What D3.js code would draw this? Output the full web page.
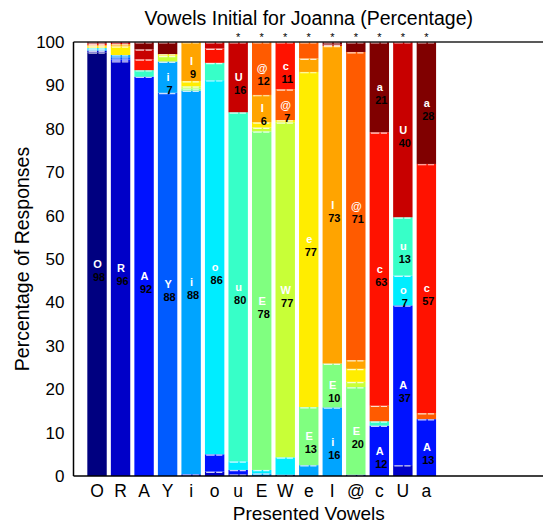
<!DOCTYPE html>
<html><head><meta charset="utf-8">
<script src="https://cdn.jsdelivr.net/npm/d3@7"></script>
<style>body{margin:0;background:#fff}svg{display:block}text{font-family:"Liberation Sans",Arial,Helvetica,sans-serif}</style>
</head><body><svg id="c" width="543" height="527"></svg>
<script>
// Presented vowels (bars) and response categories (stack segments), same order
const categories = ["O","R","A","Y","i","o","u","E","W","e","I","@","c","U","a"];
// Percentage of responses per presented vowel, in response order O R A Y i o u E W e I @ c U a
const rowO  = [97.6,0.4,0,0,0.3,0.3,0,0,0,0.4,0.3,0,0.3,0,0.4];
const rowR  = [0,95.6,0.4,0.5,0.5,0,0,0,0,2.0,0.5,0,0,0.5,0];
const rowA  = [0,0,92.0,0,0,0,1.5,0,0,0,0,0,2.5,2.3,1.7];
const rowY  = [0,0,0,88.3,7.2,0,0,0,1.3,0.4,0,0,0,0,2.8];
const row_i = [0,0,0.4,0,88.4,0,0,0.5,0.5,1.2,9.0,0,0,0,0];
const row_o = [0,1.0,4.0,0,0,86.2,4.0,0,0,0,0,0,3.3,1.5,0];
const row_u = [0,0.4,1.0,0,0,2.0,80.4,0,0,0,0,0,0,16.2,0];
const rowE  = [0,0,0,0,0.6,0.8,0,78.0,0.9,1.2,6.3,12.2,0,0,0];
const rowW  = [0,0.3,0,0,0,4.0,0,0,77.2,0.5,0,7.1,10.9,0,0];
const row_e = [0,0,0,0,2.5,0,0,13.4,0,77.2,3.1,3.8,0,0,0];
const rowI  = [0,0,0,0,15.8,0,0,10.1,0,0,73.2,0,0,0.3,0.6];
const rowAt = [0,0,0.3,0,0,0,0,20.2,1.2,3.0,2.0,71.0,0,0,2.3];
const row_c = [0,0,11.6,0,0,0,1.0,0,0,0,0,3.6,63.0,0,20.8];
const rowU  = [0,2.5,36.8,0,0,6.9,13.4,0,0,0,0,0,0,40.4,0];
const row_a = [0,0,13.1,0,0,0,0,0,0,0,0,1.4,57.4,0,28.1];
const rows = [rowO,rowR,rowA,rowY,row_i,row_o,row_u,rowE,rowW,row_e,rowI,rowAt,row_c,rowU,row_a];
// presented vowels marked with a star
const starred = ["u","E","W","e","I","@","c","U","a"];
const yTicks = [0,10,20,30,40,50,60,70,80,90,100];

const table = categories.map((p,i)=>{const o={presented:p,idx:i+1};categories.forEach((k,j)=>o[k]=rows[i][j]);return o;});

const svg = d3.select("#c");
const L=73.5, R=544, T=42, B=476;
const x = d3.scaleLinear().domain([0,20]).range([L,R]);
const y = d3.scaleLinear().domain([0,100]).range([B,T]);
const bw = 0.825*(x(1)-x(0));
const jet = t=>{const c=v=>Math.round(255*Math.max(0,Math.min(1,v)));
  return `rgb(${c(1.5-Math.abs(4*t-3))},${c(1.5-Math.abs(4*t-2))},${c(1.5-Math.abs(4*t-1))})`;};
const color = d3.scaleOrdinal().domain(categories).range(categories.map((_,i)=>jet(i/14)));

const series = d3.stack().keys(categories)(table);
const g = svg.append("g");
series.forEach(s=>{
  const segs = s.filter(d=>d[1]-d[0]>0);
  g.selectAll(null).data(segs).enter().append("rect")
    .attr("x",d=>x(d.data.idx)-bw/2).attr("width",bw)
    .attr("y",d=>y(d[1])).attr("height",d=>y(d[0])-y(d[1]))
    .attr("fill",color(s.key));
});
// white dashed edges at segment tops
series.forEach(s=>{
  const segs = s.filter(d=>d[1]-d[0]>0);
  g.selectAll(null).data(segs).enter().append("line")
    .attr("x1",d=>x(d.data.idx)-bw/2+1.2).attr("x2",d=>x(d.data.idx)+bw/2-2)
    .attr("y1",d=>y(d[1])+0.8).attr("y2",d=>y(d[1])+0.8)
    .attr("stroke","#fff").attr("stroke-opacity",0.8).attr("stroke-width",1.2)
    .attr("stroke-dasharray","8.5,1.5");
});
// segment labels
series.forEach(s=>{
  const segs = s.filter(d=>d[1]-d[0]>=5.5);
  segs.forEach(d=>{
    const cx=x(d.data.idx), cy=y((d[0]+d[1])/2);
    g.append("text").attr("x",cx+0.5).attr("y",cy).attr("dy","0.35em")
      .attr("text-anchor","middle").attr("font-size",11).attr("font-weight","bold")
      .attr("fill","#fff").text(s.key);
    g.append("text").attr("x",cx+2).attr("y",cy+13).attr("dy","0.35em")
      .attr("text-anchor","middle").attr("font-size",11).attr("font-weight","bold")
      .attr("fill","#000").text(Math.round(d[1]-d[0]));
  });
});
// stars
table.filter(d=>starred.includes(d.presented)).forEach(d=>{
  svg.append("text").attr("x",x(d.idx)).attr("y",T-1).attr("text-anchor","middle")
    .attr("font-size",11).attr("fill","#000").text("*");
});
// axes box
svg.append("line").attr("x1",L).attr("x2",R).attr("y1",T).attr("y2",T).attr("stroke","#222").attr("stroke-width",1.5);
svg.append("line").attr("x1",L).attr("x2",R).attr("y1",B).attr("y2",B).attr("stroke","#000").attr("stroke-width",1.5);
svg.append("line").attr("x1",L).attr("x2",L).attr("y1",T).attr("y2",B).attr("stroke","#000").attr("stroke-width",1.5);
// y tick labels
const yAxis = d3.axisLeft(y).tickValues(yTicks).tickSize(0).tickPadding(9);
const ya = svg.append("g").attr("transform",`translate(${L},0)`).call(yAxis);
ya.select(".domain").remove();
ya.selectAll("text").attr("font-size",17).attr("fill","#000").style("font-family",'"Liberation Sans",Arial,sans-serif');
// x tick labels
table.forEach(d=>{
  svg.append("text").attr("x",x(d.idx)).attr("y",491).attr("dy","0.35em").attr("text-anchor","middle")
    .attr("font-size",17.5).attr("fill","#000").text(d.presented);
});
svg.append("text").attr("x",(L+R)/2).attr("y",18).attr("dy","0.35em").attr("text-anchor","middle")
  .attr("font-size",19.5).text("Vowels Initial for Joanna (Percentage)");
svg.append("text").attr("x",(L+R)/2).attr("y",513).attr("dy","0.35em").attr("text-anchor","middle")
  .attr("font-size",19).text("Presented Vowels");
svg.append("text").attr("transform",`translate(22,${(T+B)/2}) rotate(-90)`).attr("dy","0.35em")
  .attr("text-anchor","middle").attr("font-size",19.5).text("Percentage of Responses");
</script></body></html>
